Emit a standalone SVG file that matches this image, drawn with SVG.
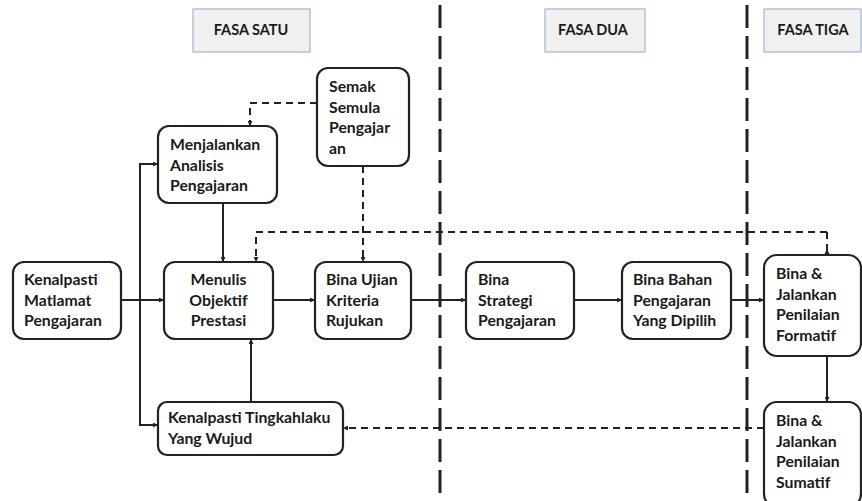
<svg xmlns="http://www.w3.org/2000/svg" width="862" height="501" viewBox="0 0 862 501">
<defs>
<style>
.box{fill:#fff;stroke:#222;stroke-width:2.2}
.hdr{fill:#f0f0f0;stroke:#9fb6cf;stroke-width:1.2}
.t{font-family:Lato,"Liberation Sans",sans-serif;font-weight:bold;font-size:15.8px;fill:#1a1a1a}
.th{font-family:Lato,"Liberation Sans",sans-serif;font-weight:bold;font-size:14.5px;fill:#1a1a1a;text-anchor:middle}
.c{fill:none;stroke:#222;stroke-width:2}
.d{fill:none;stroke:#222;stroke-width:2;stroke-dasharray:7 5}
.phase{fill:none;stroke:#222;stroke-width:3;stroke-dasharray:23 8}
</style>
<marker id="a" viewBox="0 0 10 10" refX="10" refY="5" markerWidth="5" markerHeight="5" orient="auto" markerUnits="userSpaceOnUse"><path d="M0,0 L10,5 L0,10 z" fill="#222"/></marker>
</defs>
<rect width="862" height="501" fill="#fff"/>
<g id="phases">
<line class="phase" x1="440" y1="5" x2="440" y2="501"/>
<line class="phase" x1="747" y1="5" x2="747" y2="501"/>
</g>
<g id="hdr-satu"><rect class="hdr" x="193" y="9" width="117" height="43"/><text class="th" x="251" y="35">FASA SATU</text></g>
<g id="hdr-dua"><rect class="hdr" x="545" y="9" width="100" height="43"/><text class="th" x="593" y="35">FASA DUA</text></g>
<g id="hdr-tiga"><rect class="hdr" x="764" y="9" width="97" height="43"/><text class="th" x="813" y="35">FASA TIGA</text></g>
<g id="connectors">
<path class="c" d="M121,300 H164" marker-end="url(#a)"/>
<path class="c" d="M140,300 V164 H158" marker-end="url(#a)"/>
<path class="c" d="M140,300 V425 H158" marker-end="url(#a)"/>
<path class="c" d="M223,203 V262" marker-end="url(#a)"/>
<path class="c" d="M251,402 V339" marker-end="url(#a)"/>
<path class="c" d="M273,300 H315" marker-end="url(#a)"/>
<path class="c" d="M411,300 H466" marker-end="url(#a)"/>
<path class="c" d="M574,300 H622" marker-end="url(#a)"/>
<path class="c" d="M731,300 H764" marker-end="url(#a)"/>
<path class="c" d="M827,356 V402" marker-end="url(#a)"/>
<path class="d" d="M317,103 H250 V126" marker-end="url(#a)"/>
<path class="d" d="M363,166 V262" marker-end="url(#a)"/>
<path class="d" d="M827,232 H256 V262" marker-end="url(#a)"/>
<path class="d" d="M827,232 V255"/>
<path d="M824,255 L827,249 L830,255 z" fill="#222"/>
<path class="d" d="M764,428 H343" marker-end="url(#a)"/>
</g>
<g id="n-semak"><rect class="box" x="317" y="68" width="92" height="98" rx="11"/>
<text class="t" x="329" y="92">Semak</text><text class="t" x="329" y="112.5">Semula</text><text class="t" x="329" y="133">Pengajar</text><text class="t" x="329" y="153.5">an</text></g>
<g id="n-analisis"><rect class="box" x="158" y="126" width="119" height="77" rx="11"/>
<text class="t" x="170" y="150">Menjalankan</text><text class="t" x="170" y="170.5">Analisis</text><text class="t" x="170" y="191">Pengajaran</text></g>
<g id="n-matlamat"><rect class="box" x="13" y="262" width="108" height="77" rx="11"/>
<text class="t" x="24" y="285">Kenalpasti</text><text class="t" x="24" y="305.5">Matlamat</text><text class="t" x="24" y="326">Pengajaran</text></g>
<g id="n-objektif"><rect class="box" x="164" y="262" width="109" height="77" rx="11"/>
<text class="t" x="218.5" y="285" text-anchor="middle">Menulis</text><text class="t" x="218.5" y="305.5" text-anchor="middle">Objektif</text><text class="t" x="218.5" y="326" text-anchor="middle">Prestasi</text></g>
<g id="n-ujian"><rect class="box" x="315" y="262" width="96" height="77" rx="11"/>
<text class="t" x="326" y="285">Bina Ujian</text><text class="t" x="326" y="305.5">Kriteria</text><text class="t" x="326" y="326">Rujukan</text></g>
<g id="n-tingkahlaku"><rect class="box" x="158" y="402" width="185" height="53" rx="9"/>
<text class="t" x="168" y="423">Kenalpasti Tingkahlaku</text><text class="t" x="168" y="444">Yang Wujud</text></g>
<g id="n-strategi"><rect class="box" x="466" y="262" width="108" height="77" rx="11"/>
<text class="t" x="478" y="285">Bina</text><text class="t" x="478" y="305.5">Strategi</text><text class="t" x="478" y="326">Pengajaran</text></g>
<g id="n-bahan"><rect class="box" x="622" y="262" width="109" height="77" rx="11"/>
<text class="t" x="633" y="285">Bina Bahan</text><text class="t" x="633" y="305.5">Pengajaran</text><text class="t" x="633" y="326">Yang Dipilih</text></g>
<g id="n-formatif"><rect class="box" x="764" y="255" width="97" height="101" rx="13"/>
<text class="t" x="776" y="279">Bina &amp;</text><text class="t" x="776" y="299.5">Jalankan</text><text class="t" x="776" y="320">Penilaian</text><text class="t" x="776" y="340.5">Formatif</text></g>
<g id="n-sumatif"><rect class="box" x="764" y="402" width="97" height="105" rx="13"/>
<text class="t" x="776" y="426">Bina &amp;</text><text class="t" x="776" y="446.5">Jalankan</text><text class="t" x="776" y="467">Penilaian</text><text class="t" x="776" y="487.5">Sumatif</text></g>
</svg>
